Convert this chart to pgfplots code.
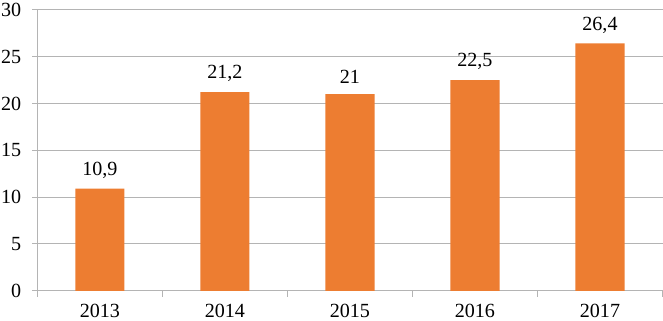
\documentclass[border=0pt]{standalone}
\usepackage{fontspec}
\setmainfont{Liberation Serif}
\newfontfamily\tnr{Liberation Serif}
\usepackage{pgfplots}
\pgfplotsset{compat=1.18}
\definecolor{barorange}{HTML}{ED7D31}
\definecolor{gridgray}{HTML}{B4B4B4}
\begin{document}
\begin{tikzpicture}
\begin{axis}[
  scale only axis, width=623pt, height=280pt,
  xmin=-0.5, xmax=4.5, ymin=0, ymax=30,
  ytick={0,5,...,30},
  xtick={0,...,4}, xticklabels={2013,2014,2015,2016,2017},
  minor xtick={-0.5,0.5,...,4.5},
  axis x line*=bottom, axis y line*=left,
  axis line style={gridgray,-, line width=1pt},
  tick style={gridgray, line width=1pt},
  major x tick style={draw=none},
  tick align=outside,
  major tick length=5pt, minor tick length=6pt,
  ymajorgrids, grid style={gridgray, line width=1pt},
  tick label style={font=\tnr\fontsize{20}{24}\selectfont, black},
  yticklabel style={inner xsep=1pt, inner ysep=3pt, xshift=-10pt},
  xticklabel style={inner sep=3pt, yshift=-5pt},
  /pgf/number format/assume math mode=true,
  /pgf/number format/use comma,
  ybar, bar width=49pt,
  nodes near coords,
  every node near coord/.append style={font=\tnr\fontsize{20}{24}\selectfont, black, inner sep=0pt, yshift=10pt},
]
\addplot[fill=barorange, draw=none] coordinates {(0,10.9) (1,21.2) (2,21) (3,22.5) (4,26.4)};
\end{axis}
\end{tikzpicture}
\end{document}
